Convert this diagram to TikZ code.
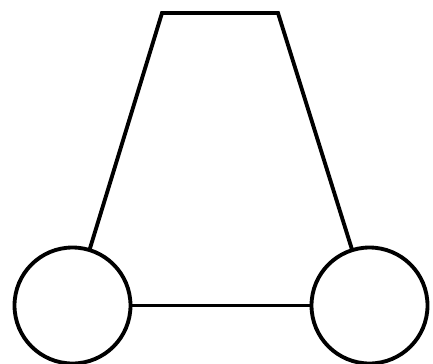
\documentclass[tikz,border=0pt]{standalone}
\begin{document}
\begin{tikzpicture}[line width=1.1pt, every node/.style={font=\small},
  wheel/.style={draw, circle, minimum size=1.16cm, inner sep=0pt, outer sep=0pt}]
  \useasboundingbox (0,0) rectangle (4.33,3.63);
  \node[wheel] (lw) at (0.725,0.575) {};
  \node[wheel] (rw) at (3.695,0.575) {};
  \coordinate (tl) at (1.62,3.50);
  \coordinate (tr) at (2.78,3.50);
  % body
  \draw (lw) -- (tl) -- (tr) -- (rw);
  \draw (lw) -- (rw);
\end{tikzpicture}
\end{document}
